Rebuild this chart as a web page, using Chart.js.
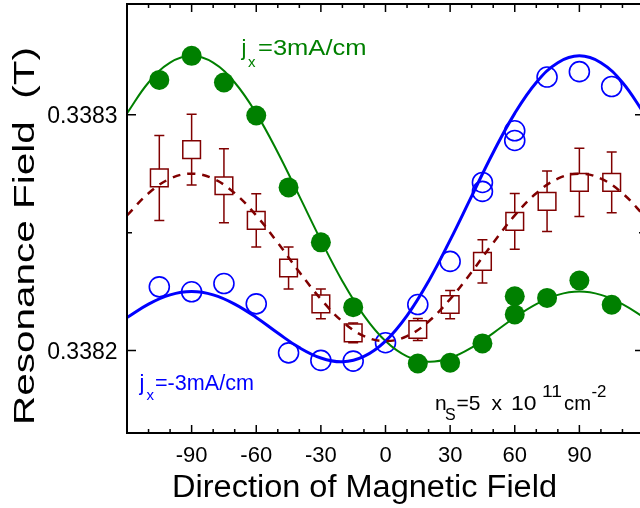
<!DOCTYPE html>
<html>
<head>
<meta charset="utf-8">
<script src="https://cdn.jsdelivr.net/npm/chart.js@4"></script>
<style>
  html, body { margin: 0; padding: 0; background: #fff; overflow: hidden; }
  #wrap { width: 640px; height: 508px; overflow: hidden; }
  canvas { display: block; }
</style>
</head>
<body>
<div id="wrap"><canvas id="chart" width="660" height="508"></canvas></div>
<script>
// DATOS
const greenX = [-105, -90, -75, -60, -45, -30, -15, 15, 30, 45, 60, 60, 75, 90, 105];
const greenY = [0.3383148, 0.338325, 0.3383137, 0.3382997, 0.3382692, 0.3382459, 0.3382184,
  0.3381945, 0.3381948, 0.338203, 0.3382153, 0.338223, 0.3382223, 0.3382297, 0.3382194];

const blueX = [-105, -90, -75, -60, -45, -30, -15, 0, 15, 30, 45, 45, 60, 60, 75, 90, 105];
const blueY = [0.338227, 0.3382249, 0.3382284, 0.3382198, 0.338199, 0.3381958, 0.3381955, 0.3382033,
  0.3382195, 0.3382378, 0.3382713, 0.3382675, 0.3382932, 0.3382891, 0.338316, 0.3383183, 0.338312];

const redX = [-105, -90, -75, -60, -45, -30, -15, 15, 30, 45, 60, 75, 90, 105];
const redY = [0.3382732, 0.3382852, 0.3382699, 0.3382552, 0.338235, 0.3382198, 0.3382075,
  0.3382089, 0.3382195, 0.3382378, 0.3382548, 0.3382633, 0.3382713, 0.3382713];
const redErr = [0.000018, 0.000015, 0.0000157, 0.0000113, 0.0000089, 0.0000063, 0.0000042,
  0.0000047, 0.000006, 0.0000092, 0.0000118, 0.0000128, 0.0000145, 0.0000129];

// curvas de ajuste
const fitX = [-120, -110, -100, -90, -80, -70, -60, -50, -40, -30, -20, -10, 0,
  10, 20, 30, 40, 50, 60, 70, 80, 90, 100, 110, 120];
const greenFit = [0.3383006, 0.3383137, 0.3383221, 0.338325, 0.3383221, 0.3383137, 0.3383006,
  0.338284, 0.3382655, 0.3382468, 0.3382294, 0.3382148, 0.338204, 0.3381975, 0.3381952,
  0.3381968, 0.3382012, 0.3382074, 0.338214, 0.3382197, 0.3382236, 0.338225, 0.3382236,
  0.3382197, 0.338214];
const blueFit = [0.338214, 0.3382197, 0.3382236, 0.338225, 0.3382236, 0.3382197, 0.338214,
  0.3382074, 0.3382012, 0.3381968, 0.3381952, 0.3381975, 0.338204, 0.3382148, 0.3382294,
  0.3382468, 0.3382655, 0.338284, 0.3383006, 0.3383137, 0.3383221, 0.338325, 0.3383221,
  0.3383137, 0.3383006];
const redFit = [0.3382573, 0.3382667, 0.3382729, 0.338275, 0.3382729, 0.3382667, 0.3382573,
  0.3382457, 0.3382333, 0.3382218, 0.3382123, 0.3382061, 0.338204, 0.3382061, 0.3382123,
  0.3382218, 0.3382333, 0.3382457, 0.3382573, 0.3382667, 0.3382729, 0.338275, 0.3382729,
  0.3382667, 0.3382573];

// ticks
const xMajor = [-90, -60, -30, 0, 30, 60, 90];
const xMinor = [-110, -100, -80, -70, -50, -40, -20, -10, 10, 20, 40, 50, 70, 80, 100, 110];
const yMajor = [0.3382, 0.3383];
const yMinor = [0.33825];
const yLabels = ["0.3382", "0.3383"];

const GREEN = "#008000", BLUE = "#0000ff", RED = "#800000";
const FONT = "'Liberation Sans', Arial, sans-serif";

const pts = (xs, ys) => xs.map((x, i) => ({ x: x, y: ys[i] }));

// texto con ancho objetivo
function fitText(ctx, text, x, y, size, width) {
  ctx.save();
  ctx.font = size + "px " + FONT;
  const w = ctx.measureText(text).width;
  ctx.translate(x, y);
  if (width) ctx.scale(width / w, 1);
  ctx.fillText(text, 0, 0);
  ctx.restore();
}

const axesPlugin = {
  id: "axesPlugin",
  afterDatasetsDraw(chart) {
    const ctx = chart.ctx, xs = chart.scales.x, ys = chart.scales.y;
    const a = chart.chartArea;
    const half = 8.7;
    // barras de error
    ctx.save();
    ctx.strokeStyle = RED;
    ctx.lineWidth = 1.5;
    redX.forEach((v, i) => {
      const px = xs.getPixelForValue(v);
      const py = ys.getPixelForValue(redY[i]);
      const top = ys.getPixelForValue(redY[i] + redErr[i]);
      const bot = ys.getPixelForValue(redY[i] - redErr[i]);
      ctx.beginPath();
      if (top < py - half) { ctx.moveTo(px, top); ctx.lineTo(px, py - half); }
      if (bot > py + half) { ctx.moveTo(px, py + half); ctx.lineTo(px, bot); }
      ctx.moveTo(px - 5, top); ctx.lineTo(px + 5, top);
      ctx.moveTo(px - 5, bot); ctx.lineTo(px + 5, bot);
      ctx.stroke();
    });
    ctx.restore();

    // marco y ticks
    ctx.save();
    ctx.strokeStyle = "#000";
    ctx.lineWidth = 2;
    ctx.beginPath();
    ctx.moveTo(a.left, a.top); ctx.lineTo(a.left, a.bottom);
    ctx.lineTo(a.right, a.bottom); ctx.lineTo(a.right, a.top); ctx.closePath();
    ctx.stroke();
    ctx.lineWidth = 1.5;
    ctx.beginPath();
    xMajor.concat(xMinor).forEach((v) => {
      const len = xMajor.includes(v) ? 8 : 4;
      const px = xs.getPixelForValue(v);
      ctx.moveTo(px, a.bottom); ctx.lineTo(px, a.bottom - len);
      ctx.moveTo(px, a.top); ctx.lineTo(px, a.top + len);
    });
    yMajor.concat(yMinor).forEach((v) => {
      const len = yMajor.includes(v) ? 9 : 5;
      const py = ys.getPixelForValue(v);
      ctx.moveTo(a.left, py); ctx.lineTo(a.left + len, py);
      ctx.moveTo(a.right, py); ctx.lineTo(a.right - len, py);
    });
    ctx.stroke();

    // etiquetas
    ctx.fillStyle = "#000";
    ctx.textBaseline = "alphabetic";
    ctx.font = "22px " + FONT;
    ctx.textAlign = "center";
    xMajor.forEach((v) => ctx.fillText(String(v), xs.getPixelForValue(v), 462));
    ctx.textAlign = "right";
    ctx.font = "23px " + FONT;
    yMajor.forEach((v, i) => ctx.fillText(yLabels[i], 117.5, ys.getPixelForValue(v) + 8.3));

    ctx.textAlign = "left";
    fitText(ctx, "Direction of Magnetic Field", 172, 497, 31, 385);
    ctx.save();
    ctx.translate(34, 425);
    ctx.rotate(-Math.PI / 2);
    fitText(ctx, "Resonance Field  (T)", 0, 0, 30, 378);
    ctx.restore();

    // anotaciones
    ctx.fillStyle = GREEN;
    fitText(ctx, "j", 241.5, 54.5, 22);
    fitText(ctx, "x", 248, 66.5, 15);
    fitText(ctx, "=3mA/cm", 258, 54.5, 22, 108.5);

    ctx.fillStyle = BLUE;
    fitText(ctx, "j", 139.5, 390, 22);
    fitText(ctx, "x", 146.5, 400, 15);
    fitText(ctx, "=-3mA/cm", 155, 390, 22, 99);

    ctx.fillStyle = "#000";
    fitText(ctx, "n", 435, 410, 21);
    fitText(ctx, "S", 445, 420, 16);
    fitText(ctx, "=5", 456.5, 410, 21);
    fitText(ctx, "x", 491.5, 410, 21);
    fitText(ctx, "10", 511, 410, 21, 25.5);
    fitText(ctx, "11", 542, 396.5, 16, 20);
    fitText(ctx, "cm", 564, 410, 21, 27);
    fitText(ctx, "-2", 591.5, 396.5, 16, 15);
    ctx.restore();
  }
};

const config = {
  type: "scatter",
  data: {
    datasets: [
      { data: pts(fitX, redFit), showLine: true, borderColor: RED, borderWidth: 2.5, borderDash: [8, 7],
        pointRadius: 0, tension: 0.4, fill: false },
      { data: pts(fitX, blueFit), showLine: true, borderColor: BLUE, borderWidth: 3,
        pointRadius: 0, tension: 0.4, fill: false },
      { data: pts(fitX, greenFit), showLine: true, borderColor: GREEN, borderWidth: 2,
        pointRadius: 0, tension: 0.4, fill: false },
      { data: pts(redX, redY), showLine: false, pointStyle: "rect", pointRadius: 12.5,
        pointBorderColor: RED, pointBackgroundColor: "rgba(0,0,0,0)", pointBorderWidth: 1.5 },
      { data: pts(blueX, blueY), showLine: false, pointStyle: "circle", pointRadius: 10,
        pointBorderColor: BLUE, pointBackgroundColor: "rgba(0,0,0,0)", pointBorderWidth: 1.6 },
      { data: pts(greenX, greenY), showLine: false, pointStyle: "circle", pointRadius: 10,
        pointBorderColor: GREEN, pointBackgroundColor: GREEN, pointBorderWidth: 0 },
    ],
  },
  options: {
    responsive: false,
    animation: false,
    events: [],
    layout: { autoPadding: false, padding: { left: 127, right: 16, top: 4, bottom: 75 } },
    plugins: { legend: { display: false }, tooltip: { enabled: false } },
    scales: {
      x: { type: "linear", min: -120, max: 120, display: false },
      y: { type: "linear", min: 0.338165, max: 0.338347, display: false },
    },
  },
  plugins: [axesPlugin],
};

new Chart(document.getElementById("chart"), config);
</script>
</body>
</html>
